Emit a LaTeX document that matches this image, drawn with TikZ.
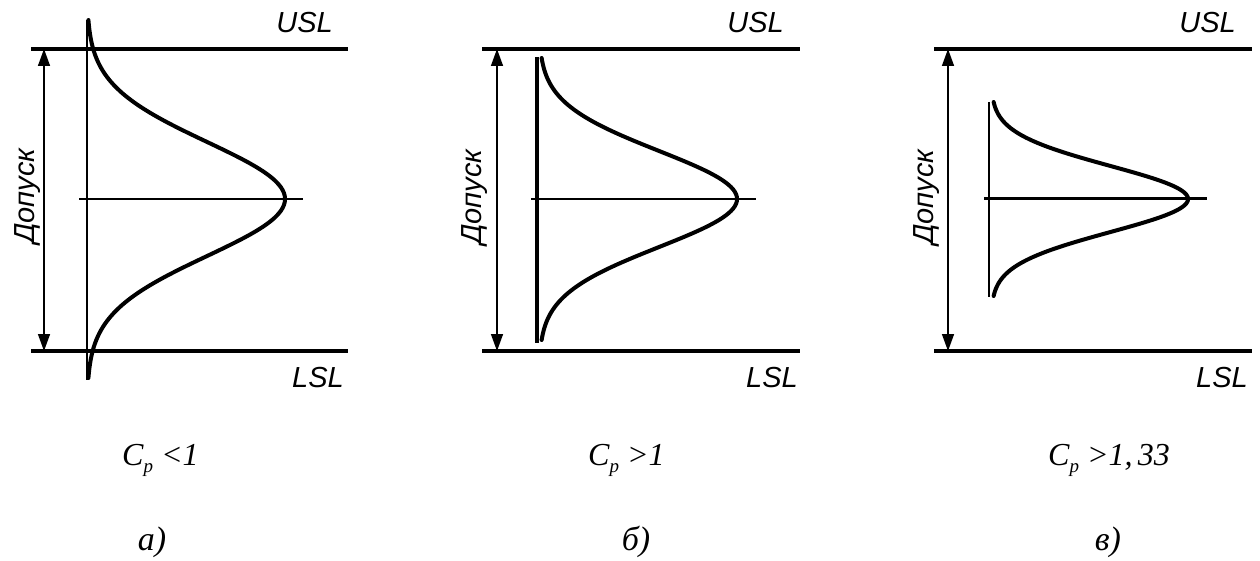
\documentclass[tikz,border=0pt]{standalone}
\usepackage{fontspec}
\setmainfont{Liberation Serif}
\setsansfont{Liberation Sans}
\usetikzlibrary{arrows.meta}
\begin{document}
\begin{tikzpicture}[x=1pt,y=-1pt,
  limit/.style={line width=4.5pt},
  thinline/.style={line width=1.3pt},
  thickline/.style={line width=3pt},
  curve/.style={line width=4pt, line join=round, line cap=round},
  dim/.style={line width=1.5pt, {Triangle[length=17pt,width=12pt]}-{Triangle[length=17pt,width=12pt]}},
  lbl/.style={font=\fontsize{29}{29}\selectfont\sffamily\itshape, inner sep=0pt},
  cp/.style={font=\fontsize{32}{32}\selectfont\itshape, inner sep=0pt},
  lab/.style={font=\fontsize{34}{34}\selectfont\itshape, inner sep=0pt}]
\useasboundingbox (0,0) rectangle (1260,561);
\newcommand{\subp}{\raisebox{-7pt}{\fontsize{19}{19}\selectfont p}}
% ---------- panel a ----------
\coordinate (aU1) at (31,49);  \coordinate (aU2) at (348,49);
\coordinate (aL1) at (31,351); \coordinate (aL2) at (348,351);
\draw[limit] (aU1) -- (aU2);
\draw[limit] (aL1) -- (aL2);
\coordinate (aA1) at (44,49); \coordinate (aA2) at (44,351);
\draw[dim] (aA1) -- (aA2);
\coordinate (aV1) at (87,20); \coordinate (aV2) at (87,380);
\draw[thinline] (aV1) -- (aV2);
\coordinate (aH1) at (79,199); \coordinate (aH2) at (303,199);
\draw[thinline] (aH1) -- (aH2);
\draw[curve] plot[domain=-179:179, samples=121, smooth] ({87+198*exp(-0.5*(\x/57)^2)}, {199+\x});
\node[lbl, anchor=base east] (aUSL) at (333,33) {USL};
\node[lbl, anchor=base east] (aLSL) at (344,387) {LSL};
\node[lbl, rotate=90, anchor=base] (aTol) at (34,196) {Допуск};
\node[cp, anchor=base west] (aCp) at (122,465) {C\subp{} <1};
\node[lab, anchor=base] (aLab) at (152,550) {а)};
% ---------- panel b ----------
\coordinate (bU1) at (482,49);  \coordinate (bU2) at (800,49);
\coordinate (bL1) at (482,351); \coordinate (bL2) at (800,351);
\draw[limit] (bU1) -- (bU2);
\draw[limit] (bL1) -- (bL2);
\coordinate (bA1) at (497,49); \coordinate (bA2) at (497,351);
\draw[dim] (bA1) -- (bA2);
\coordinate (bV1) at (537,57); \coordinate (bV2) at (537,343);
\draw[curve, line cap=butt] (bV1) -- (bV2);
\coordinate (bH1) at (531,199); \coordinate (bH2) at (756,199);
\draw[thinline] (bH1) -- (bH2);
\draw[curve] plot[domain=-141:141, samples=121, smooth] ({539+198*exp(-0.5*(\x/48)^2)}, {199+\x});
\node[lbl, anchor=base east] (bUSL) at (784,33) {USL};
\node[lbl, anchor=base east] (bLSL) at (798,387) {LSL};
\node[lbl, rotate=90, anchor=base] (bTol) at (481,197) {Допуск};
\node[cp, anchor=base west] (bCp) at (588,465) {C\subp{} >1};
\node[lab, anchor=base] (bLab) at (636,550) {б)};
% ---------- panel c ----------
\coordinate (cU1) at (934,49);  \coordinate (cU2) at (1252,49);
\coordinate (cL1) at (934,351); \coordinate (cL2) at (1252,351);
\draw[limit] (cU1) -- (cU2);
\draw[limit] (cL1) -- (cL2);
\coordinate (cA1) at (948,49); \coordinate (cA2) at (948,351);
\draw[dim] (cA1) -- (cA2);
\coordinate (cV1) at (989,102); \coordinate (cV2) at (989,297);
\draw[thinline] (cV1) -- (cV2);
\coordinate (cH1) at (984,199); \coordinate (cH2) at (1207,199);
\draw[thickline] (cH1) -- (cH2);
\draw[curve] plot[domain=-97:97, samples=121, smooth] ({991+197*exp(-0.5*(\x/33)^2)}, {199+\x});
\node[lbl, anchor=base east] (cUSL) at (1236,33) {USL};
\node[lbl, anchor=base east] (cLSL) at (1248,387) {LSL};
\node[lbl, rotate=90, anchor=base] (cTol) at (933,197) {Допуск};
\node[cp, anchor=base west] (cCp) at (1048,465) {C\subp{} >1,\,33};
\node[lab, anchor=base] (cLab) at (1108,550) {в)};
\end{tikzpicture}
\end{document}
